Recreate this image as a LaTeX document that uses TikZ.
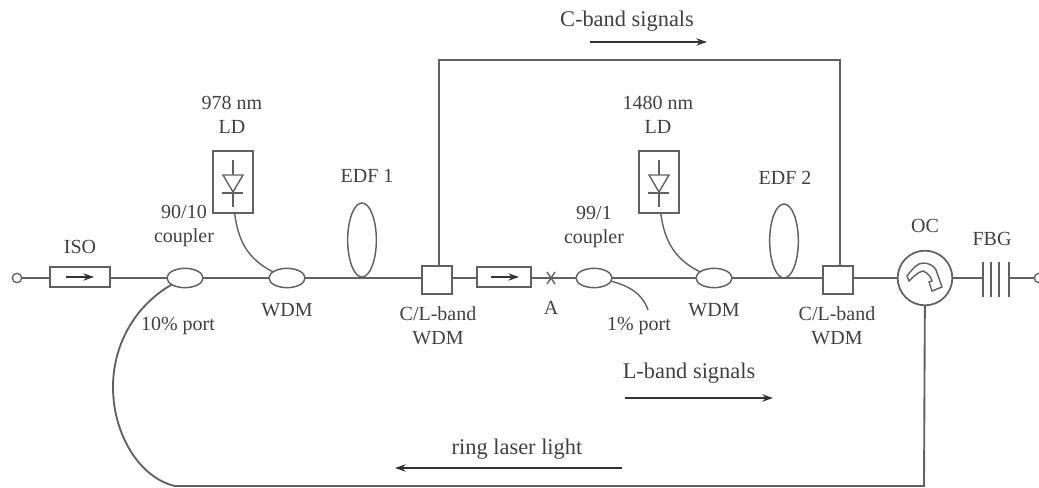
\documentclass[tikz,border=0pt]{standalone}
\usepackage{fontspec}
\setmainfont{Liberation Serif}
\usetikzlibrary{arrows.meta,shapes.geometric,calc}
\definecolor{ink}{gray}{0.38}
\definecolor{txt}{gray}{0.25}
\tikzset{
  x=0.75pt,y=-0.75pt,
  line/.style={draw=ink,line width=1.4pt},
  thin line/.style={draw=ink,line width=1.05pt},
  lbl/.style={text=txt,font=\fontsize{15}{18}\selectfont,align=center,inner sep=0pt},
  biglbl/.style={lbl,font=\fontsize{16.8}{20}\selectfont},
  cplr/.style={ellipse,draw=ink,line width=1.1pt,fill=white,minimum width=27pt,minimum height=14.5pt,inner sep=0pt},
  isobox/.style={rectangle,draw=ink,line width=1.3pt,fill=white,minimum height=15pt,inner sep=0pt},
  wdmbox/.style={rectangle,draw=ink,line width=1.3pt,fill=white,minimum width=22pt,minimum height=21pt,inner sep=0pt},
  ldbox/.style={rectangle,draw=ink,line width=1.3pt,fill=white,minimum width=30pt,minimum height=47pt,inner sep=0pt},
  port/.style={circle,draw=ink,line width=1pt,fill=white,minimum size=7pt,inner sep=0pt},
  edfloop/.style={ellipse,draw=ink,line width=1.1pt,minimum width=21.5pt,minimum height=55.5pt,inner sep=0pt},
  arr/.style={draw=black!80,line width=1pt,-{Stealth[length=8pt,width=5.5pt]}},
}
\newcommand{\diodemark}[1]{%
  \draw[thin line] ($(#1)+(0,-22)$) -- ($(#1)+(0,25)$);
  \draw[thin line,fill=white] ($(#1)+(-10,-7)$) -- ($(#1)+(10,-7)$) -- ($(#1)+(0,10)$) -- cycle;
  \draw[thin line] ($(#1)+(-11,11)$) -- ($(#1)+(10,11)$);
}
\begin{document}
\begin{tikzpicture}
\useasboundingbox (0,0) rectangle (1039,488);

% coordinates of the parts
\coordinate (pA) at (551,278);
\coordinate (g1) at (983,278);
\coordinate (g4) at (1009,278);
\coordinate (topL) at (439,60);
\coordinate (topR) at (840,60);
\coordinate (clTopL) at (439,266);
\coordinate (clTopR) at (840,266);
\coordinate (corner) at (924,486);
\coordinate (ringend) at (175,486);
\coordinate (port1) at (648,310);
\coordinate (c90p) at (185,278);
\coordinate (wdm1p) at (287,278);
\coordinate (c99p) at (594,278);
\coordinate (wdm2p) at (714,278);
\coordinate (cl1p) at (437,280);
\coordinate (cl2p) at (838,280);
\coordinate (ld1p) at (233,182);
\coordinate (ld2p) at (659,182);
\coordinate (ocp) at (925,278);

% fibre, under the parts
\node[port] (inport) at (17,278) {};
\node[port] (outport) at (1039,278) {};
\draw[line] (inport) -- (g1);
\draw[line] (g4) -- (outport);
\draw[line] (clTopL) -- (topL) -- (topR) -- (clTopR);
\draw[line] (ocp) -- (corner) -- (ringend)
  .. controls (140,478) and (113,435) .. (113,387)
  .. controls (113,340) and (140,297) .. (c90p);
\draw[thin line] (ld1p) .. controls (233,240) and (245,262) .. (wdm1p);
\draw[thin line] (ld2p) .. controls (659,240) and (672,262) .. (wdm2p);
\draw[thin line] (c99p) .. controls (625,282) and (642,292) .. (port1);

% parts
\node[isobox,minimum width=45pt] (iso1) at (80,277) {};
\node[cplr] (c90) at (c90p) {};
\node[cplr] (wdm1) at (wdm1p) {};
\node[edfloop] (edf1) at (362,240) {};
\node[wdmbox] (cl1) at (cl1p) {};
\node[isobox,minimum width=41pt] (iso2) at (504,277) {};
\node[cplr] (c99) at (c99p) {};
\node[cplr] (wdm2) at (wdm2p) {};
\node[edfloop] (edf2) at (784,241) {};
\node[wdmbox] (cl2) at (cl2p) {};
\node[circle,draw=ink,line width=1.3pt,fill=white,minimum size=41pt,inner sep=0pt] (oc) at (ocp) {};
\node[ldbox] (ld1) at (ld1p) {};
\node[ldbox] (ld2) at (ld2p) {};

% isolators' arrows
\draw[arr] ($(iso1)+(-14,0)$) -- ($(iso1)+(14,0)$);
\draw[arr] ($(iso2)+(-13,0)$) -- ($(iso2)+(15,0)$);

% laser diodes
\diodemark{ld1}
\diodemark{ld2}

% splice
\draw[thin line] ($(pA)+(-4,-6)$) -- ($(pA)+(4,6)$);
\draw[thin line] ($(pA)+(4,-6)$) -- ($(pA)+(-4,6)$);

% grating
\foreach \gx in {983,991,999,1009}{\draw[thin line] (\gx,262) -- (\gx,297);}

% circulator symbol
\draw[thin line,fill=white] ($(oc)+(-18,-2)$) .. controls ($(oc)+(-12,-10)$) and ($(oc)+(-7,-15)$) .. ($(oc)+(-2,-15)$)
  .. controls ($(oc)+(4,-15)$) and ($(oc)+(9,-12)$) .. ($(oc)+(11,-8)$)
  -- ($(oc)+(17,9)$) -- ($(oc)+(7,13)$) -- ($(oc)+(4,4)$) -- ($(oc)+(7,3)$)
  .. controls ($(oc)+(6,-1)$) and ($(oc)+(3,-5)$) .. ($(oc)+(-2,-7)$)
  .. controls ($(oc)+(-7,-6)$) and ($(oc)+(-12,-1)$) .. ($(oc)+(-16,3)$) -- cycle;

% signal arrows
\coordinate (a1) at (590,42); \coordinate (a2) at (707,42);
\coordinate (b1) at (625,398); \coordinate (b2) at (773,398);
\coordinate (d1) at (622,468); \coordinate (d2) at (395,468);
\draw[arr] (a1) -- (a2);
\draw[arr] (b1) -- (b2);
\draw[arr] (d1) -- (d2);

% labels
\node[biglbl] (t1) at (627,21) {C-band signals};
\node[lbl] (t2) at (232,115) {978 nm\\LD};
\node[lbl] (t3) at (658,115) {1480 nm\\LD};
\node[lbl] (t4) at (367,176) {EDF 1};
\node[lbl] (t5) at (785,178) {EDF 2};
\node[lbl] (t6) at (184,226) {90/10\\coupler};
\node[lbl] (t7) at (594,227) {99/1\\coupler};
\node[lbl] (t8) at (80,247) {ISO};
\node[lbl] (t9) at (925,226) {OC};
\node[lbl] (t10) at (992,239) {FBG};
\node[lbl] (t11) at (287,310) {WDM};
\node[lbl] (t12) at (714,310) {WDM};
\node[lbl] (t13) at (438,326) {C/L-band\\WDM};
\node[lbl] (t14) at (837,326) {C/L-band\\WDM};
\node[lbl] (t15) at (551,308) {A};
\node[lbl] (t16) at (178,326) {10\% port};
\node[lbl] (t17) at (639,326) {1\% port};
\node[biglbl] (t18) at (689,373) {L-band signals};
\node[biglbl] (t19) at (517,449) {ring laser light};
\end{tikzpicture}
\end{document}
